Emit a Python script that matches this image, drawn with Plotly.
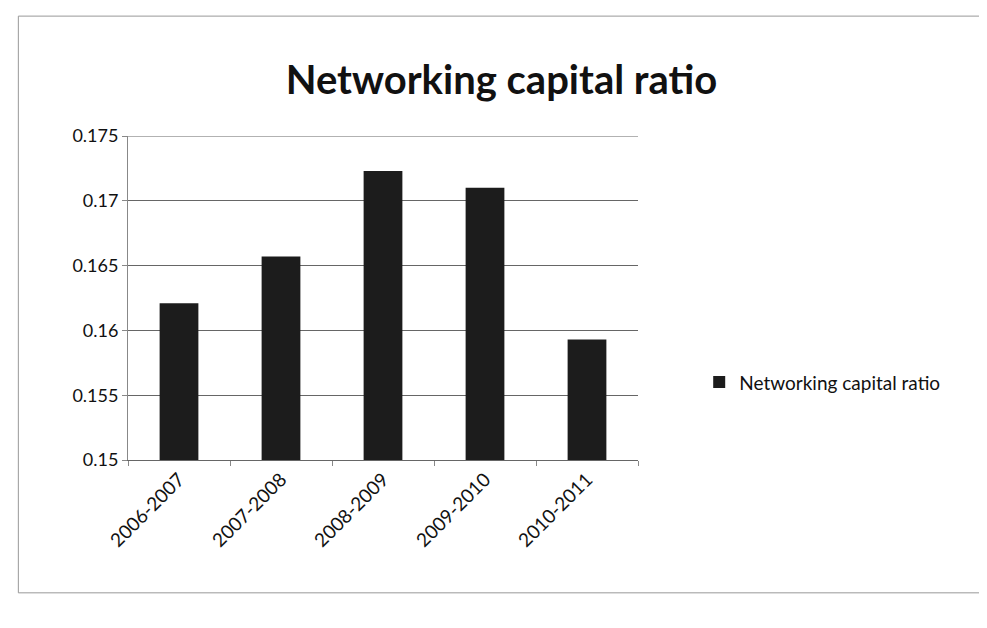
import plotly.graph_objects as go

categories = ["2006-2007", "2007-2008", "2008-2009", "2009-2010", "2010-2011"]
values = [0.1621, 0.1657, 0.1723, 0.1710, 0.1593]
series_name = "Networking capital ratio"
y_ticks = [0.15, 0.155, 0.16, 0.165, 0.17, 0.175]
y_tick_labels = ["0.15", "0.155", "0.16", "0.165", "0.17", "0.175"]

font = "Lato, 'Open Sans', sans-serif"

fig = go.Figure()
fig.add_trace(go.Bar(
    x=categories, y=values, name=series_name,
    marker=dict(color="#1c1c1c", line=dict(width=0)),
    showlegend=True,
))

fig.update_layout(
    width=987, height=628,
    paper_bgcolor="white", plot_bgcolor="white",
    margin=dict(l=120, r=357, t=128, b=176),
    title=dict(text="<b>Networking capital ratio</b>", x=0.5, xanchor="center",
               y=0.885, yanchor="middle",
               font=dict(family=font, size=40, color="#111")),
    bargap=0.62,
    showlegend=True,
    legend=dict(x=1.12, y=0.24, xanchor="left", yanchor="middle",
                font=dict(family=font, size=19, color="#111"),
                bgcolor="rgba(0,0,0,0)", itemwidth=30),
    font=dict(family=font, color="#111"),
)
fig.update_yaxes(range=[0.15, 0.175], tickvals=y_ticks, ticktext=y_tick_labels,
                 showgrid=True, gridcolor="#666", gridwidth=1,
                 showline=True, linecolor="#888", ticks="outside", ticklen=5,
                 tickcolor="#888", tickfont=dict(family=font, size=18, color="#111"))
fig.update_xaxes(tickangle=-45, showline=True, linecolor="#666", ticks="outside",
                 tickson="boundaries", tickcolor="#888", ticklen=5,
                 tickfont=dict(family=font, size=19, color="#111"))
# top gridline (at the range edge, which plotly omits)
fig.add_shape(type="line", xref="paper", yref="y", x0=0, x1=1,
              y0=y_ticks[-1], y1=y_ticks[-1], line=dict(color="#666", width=1),
              layer="below")
fig.add_shape(type="rect", xref="paper", yref="paper",
              x0=-0.215, x1=1.68, y0=-0.41, y1=1.37,
              line=dict(color="#999", width=1))

fig.write_html("out.html")
